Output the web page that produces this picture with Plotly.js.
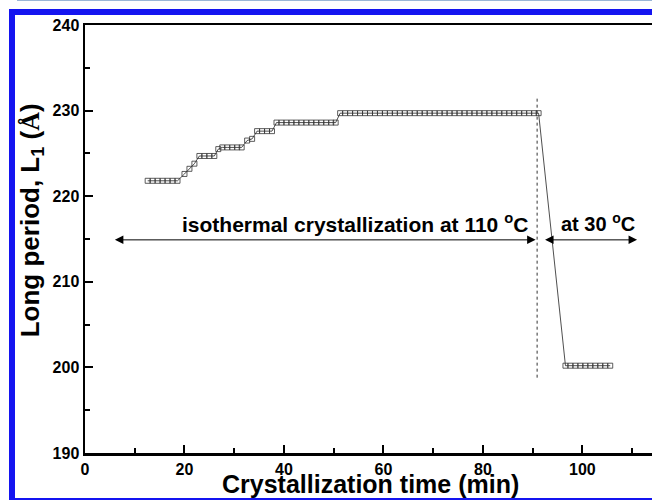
<!DOCTYPE html>
<html>
<head>
<meta charset="utf-8">
<script src="https://cdn.plot.ly/plotly-3.0.1.min.js"></script>
<style>
  html, body { margin: 0; padding: 0; background: #ffffff; }
  #wrap { position: relative; width: 652px; height: 501px; overflow: hidden; }
  #chart { position: absolute; left: 0; top: 0; width: 652px; height: 501px; }
  .frame { position: absolute; background: #1414f0; }
</style>
</head>
<body>
<div id="wrap">
  <div id="chart"></div>
  <div class="frame" style="left:9px; top:9px; width:6px; height:491px;"></div>
  <div class="frame" style="left:9px; top:9px; width:643px; height:6px;"></div>
  <div class="frame" style="left:9px; top:498px; width:643px; height:2px;"></div>
  <div style="position:absolute; left:17px; top:0px; width:635px; height:1px; background:#9bb6d6;"></div>
</div>
<script>
// Crystallization time (min)
const timeMin = [
  12.6, 13.6, 14.6, 15.6, 16.6, 17.6, 18.6,
  20.0, 21.0, 22.0,
  23.0, 24.0, 25.0, 26.0,
  26.8,
  27.6, 28.6, 29.6, 30.6, 31.5,
  32.6, 33.6,
  34.6, 35.6, 36.6, 37.6,
  38.5, 39.5, 40.5, 41.5, 42.5, 43.5, 44.5, 45.5, 46.5, 47.5, 48.5, 49.5, 50.4,
  51.3, 52.3, 53.3, 54.3, 55.3, 56.3, 57.3, 58.3, 59.3, 60.3,
  61.3, 62.3, 63.3, 64.3, 65.3, 66.3, 67.3, 68.3, 69.3, 70.3,
  71.3, 72.3, 73.3, 74.3, 75.3, 76.3, 77.3, 78.3, 79.3, 80.3,
  81.3, 82.3, 83.3, 84.3, 85.3, 86.3, 87.3, 88.3, 89.3, 90.3, 91.2,
  96.6, 97.6, 98.6, 99.6, 100.6, 101.6, 102.6, 103.6, 104.6, 105.6
];
// Long period L1 (Angstrom)
const longPeriod = [
  221.8, 221.8, 221.8, 221.8, 221.8, 221.8, 221.8,
  222.6, 223.2, 223.8,
  224.7, 224.7, 224.7, 224.7,
  225.5,
  225.7, 225.7, 225.7, 225.7, 225.7,
  226.5, 226.7,
  227.6, 227.6, 227.6, 227.6,
  228.6, 228.6, 228.6, 228.6, 228.6, 228.6, 228.6, 228.6, 228.6, 228.6, 228.6, 228.6, 228.6,
  229.7, 229.7, 229.7, 229.7, 229.7, 229.7, 229.7, 229.7, 229.7, 229.7,
  229.7, 229.7, 229.7, 229.7, 229.7, 229.7, 229.7, 229.7, 229.7, 229.7,
  229.7, 229.7, 229.7, 229.7, 229.7, 229.7, 229.7, 229.7, 229.7, 229.7,
  229.7, 229.7, 229.7, 229.7, 229.7, 229.7, 229.7, 229.7, 229.7, 229.7, 229.7,
  200.2, 200.2, 200.2, 200.2, 200.2, 200.2, 200.2, 200.2, 200.2, 200.2
];

// Annotation anchors (data units)
const dividerX = 90.9;
const dividerY = [198.8, 231.6];
const arrowY = 214.9;
const isoArrow = [5.7, 90.6];
const coolArrow = [92.2, 111.0];
const isoLabel = { x: 54.3, y: 216.9, text: 'isothermal crystallization at 110 <sup>o</sup>C' };
const coolLabel = { x: 103.1, y: 216.9, text: 'at 30 <sup>o</sup>C' };

const xTicks = [0, 20, 40, 60, 80, 100];
const yTicks = [190, 200, 210, 220, 230, 240];
const xTitle = 'Crystallization time (min)';
const yTitle = 'Long period, L<sub>1</sub> (<span style="font-family:Liberation Serif">Å</span>)';

const FONT = '"Liberation Sans", Arial, Helvetica, sans-serif';

const trace = {
  x: timeMin,
  y: longPeriod,
  type: 'scatter',
  mode: 'lines+markers',
  line: { color: '#222', width: 0.8 },
  marker: { symbol: 'square-open', size: 5, color: '#333', line: { width: 0.8, color: '#333' } },
  hoverinfo: 'skip'
};

function arrow(x0, x1, y) {
  return {
    x: x1, y: y, ax: x0, ay: y,
    xref: 'x', yref: 'y', axref: 'x', ayref: 'y',
    text: '', showarrow: true,
    arrowhead: 2, startarrowhead: 2, arrowside: 'end+start',
    arrowsize: 1.7, startarrowsize: 1.7, arrowwidth: 1, arrowcolor: '#000'
  };
}

const layout = {
  width: 652, height: 501,
  margin: { l: 85, r: 0, t: 25, b: 48 },
  paper_bgcolor: 'rgba(0,0,0,0)',
  plot_bgcolor: 'rgba(0,0,0,0)',
  showlegend: false,
  font: { family: FONT, color: '#000' },
  xaxis: {
    range: [0, 114],
    tickvals: xTicks,
    ticktext: xTicks.map(v => '<b>' + v + '</b>'),
    ticks: 'inside', ticklen: 8, tickwidth: 2, tickcolor: '#000',
    minor: { ticks: 'inside', dtick: 10, tick0: 0, ticklen: 5, tickwidth: 2, tickcolor: '#000' },
    showline: true, linewidth: 2.5, linecolor: '#000', mirror: true,
    showgrid: false, zeroline: false,
    tickfont: { family: FONT, size: 16, color: '#000', weight: 'bold' }
  },
  yaxis: {
    range: [190, 240],
    tickvals: yTicks,
    ticktext: yTicks.map(v => '<b>' + v + '</b>'),
    ticks: 'inside', ticklen: 8, tickwidth: 2, tickcolor: '#000',
    minor: { ticks: 'inside', dtick: 5, tick0: 190, ticklen: 5, tickwidth: 2, tickcolor: '#000' },
    showline: true, linewidth: 2.5, linecolor: '#000', mirror: false,
    showgrid: false, zeroline: false,
    tickfont: { family: FONT, size: 16, color: '#000', weight: 'bold' }
  },
  shapes: [
    { type: 'line', xref: 'x', yref: 'y', x0: dividerX, x1: dividerX, y0: dividerY[0], y1: dividerY[1],
      line: { color: '#333', width: 1, dash: 'dot' } }
  ],
  annotations: [
    arrow(isoArrow[0], isoArrow[1], arrowY),
    arrow(coolArrow[0], coolArrow[1], arrowY),
    { x: isoLabel.x, y: isoLabel.y, xref: 'x', yref: 'y', text: '<b>' + isoLabel.text + '</b>', showarrow: false,
      font: { family: FONT, size: 21, color: '#000' } },
    { x: coolLabel.x, y: coolLabel.y, xref: 'x', yref: 'y', text: '<b>' + coolLabel.text + '</b>', showarrow: false,
      font: { family: FONT, size: 20, color: '#000' } },
    { x: 0.5044, y: -0.072, xref: 'paper', yref: 'paper', xanchor: 'center', yanchor: 'middle',
      text: '<b>' + xTitle + '</b>', showarrow: false, font: { family: FONT, size: 25, color: '#000' } },
    { x: -0.095, y: 0.544, xref: 'paper', yref: 'paper', xanchor: 'center', yanchor: 'middle', textangle: -90,
      text: '<b>' + yTitle + '</b>', showarrow: false, font: { family: FONT, size: 26, color: '#000' } }
  ]
};

Plotly.newPlot('chart', [trace], layout, { staticPlot: true, displayModeBar: false });
</script>
</body>
</html>
